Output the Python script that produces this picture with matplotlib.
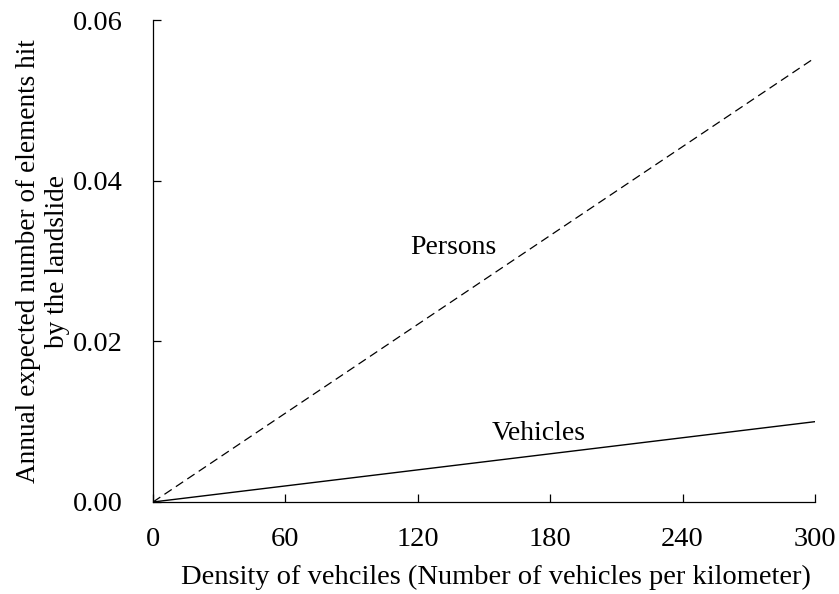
import matplotlib.pyplot as plt
import numpy as np

plt.rcParams['font.family'] = ['Liberation Serif', 'DejaVu Serif']

density = [0, 300]
persons = [0.0, 0.0553]
vehicles = [0.0, 0.0100]
x_ticks = [0, 60, 120, 180, 240, 300]
y_ticks = [0.00, 0.02, 0.04, 0.06]

fig = plt.figure(figsize=(8.39, 5.94), dpi=100)
ax = fig.add_axes([0.1824, 0.1549, 0.789, 0.8114])

ax.plot(density, persons, color='black', linestyle=(0, (7, 4)), linewidth=0.9)
ax.plot(density, vehicles, color='black', linestyle='-', linewidth=1.0)

ax.text(136, 0.0317, 'Persons', fontsize=20, ha='center', va='center')
ax.text(175, 0.0085, 'Vehicles', fontsize=20, ha='center', va='center')

ax.set_xlim(0, 300)
ax.set_ylim(0, 0.06)
ax.set_xticks(x_ticks)
ax.set_yticks(y_ticks)
ax.set_yticklabels([f"{v:.2f}" for v in y_ticks])
ax.tick_params(direction='in', labelsize=20.5, length=6, width=0.9)
ax.tick_params(axis='x', pad=18)
ax.tick_params(axis='y', pad=22)

for side in ['top', 'right']:
    ax.spines[side].set_visible(False)
for side in ['left', 'bottom']:
    ax.spines[side].set_linewidth(0.9)

ax.set_xlabel('Density of vehciles (Number of vehicles per kilometer)', fontsize=20.5, labelpad=9)
ax.xaxis.label.set_x(0.518)
ax.set_ylabel('Annual expected number of elements hit\nby the landslide', fontsize=19.6, labelpad=2)

fig.savefig('out.png')
